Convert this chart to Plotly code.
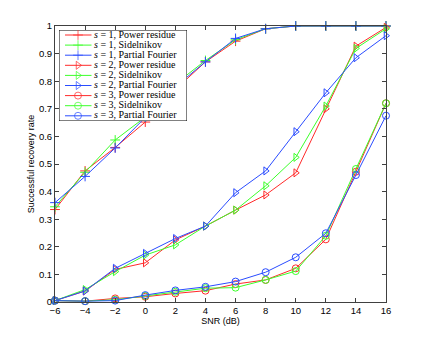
import plotly.graph_objects as go

snr = [-6, -4, -2, 0, 2, 4, 6, 8, 10, 12, 14, 16]
y_ticks = [0, 0.1, 0.2, 0.3, 0.4, 0.5, 0.6, 0.7, 0.8, 0.9, 1]

s1_power = [0.335, 0.475, 0.56, 0.652, 0.77, 0.87, 0.945, 0.99, 1.0, 1.0, 1.0, 1.0]
s1_sidel = [0.345, 0.47, 0.587, 0.67, 0.79, 0.875, 0.95, 0.99, 1.0, 1.0, 1.0, 1.0]
s1_pf = [0.36, 0.455, 0.558, 0.67, 0.78, 0.87, 0.955, 0.99, 1.0, 1.0, 1.0, 1.0]

s2_power = [0.005, 0.04, 0.118, 0.142, 0.225, 0.275, 0.333, 0.388, 0.468, 0.70, 0.927, 0.995]
s2_sidel = [0.005, 0.045, 0.11, 0.17, 0.207, 0.275, 0.333, 0.421, 0.524, 0.71, 0.919, 0.99]
s2_pf = [0.005, 0.04, 0.122, 0.176, 0.23, 0.275, 0.396, 0.475, 0.617, 0.758, 0.885, 0.965]

s3_power = [0.005, 0.003, 0.013, 0.019, 0.031, 0.041, 0.065, 0.08, 0.122, 0.227, 0.472, 0.72]
s3_sidel = [0.005, 0.003, 0.008, 0.022, 0.037, 0.05, 0.052, 0.08, 0.112, 0.24, 0.482, 0.72]
s3_pf = [0.005, 0.003, 0.005, 0.025, 0.042, 0.055, 0.074, 0.108, 0.162, 0.249, 0.46, 0.675]

labels = [
    "<i>s</i> = 1, Power residue",
    "<i>s</i> = 1, Sidelnikov",
    "<i>s</i> = 1, Partial Fourier",
    "<i>s</i> = 2, Power residue",
    "<i>s</i> = 2, Sidelnikov",
    "<i>s</i> = 2, Partial Fourier",
    "<i>s</i> = 3, Power residue",
    "<i>s</i> = 3, Sidelnikov",
    "<i>s</i> = 3, Partial Fourier",
]

RED, GREEN, BLUE = "#ff2a2a", "#3cff2a", "#2a4cff"

series = [
    (s1_power, RED, "cross-thin-open"),
    (s1_sidel, GREEN, "cross-thin-open"),
    (s1_pf, BLUE, "cross-thin-open"),
    (s2_power, RED, "triangle-right-open"),
    (s2_sidel, GREEN, "triangle-right-open"),
    (s2_pf, BLUE, "triangle-right-open"),
    (s3_power, RED, "circle-open"),
    (s3_sidel, GREEN, "circle-open"),
    (s3_pf, BLUE, "circle-open"),
]

fig = go.Figure()

for vals, color, sym in series:
    fig.add_trace(go.Scatter(
        x=snr, y=vals, mode="lines+markers",
        line=dict(color=color, width=1),
        marker=dict(symbol=sym, size=7, color=color, line=dict(color=color, width=1)),
        cliponaxis=False, showlegend=False,
    ))

# compact MATLAB-style legend on its own small axes
fig.add_trace(go.Scatter(
    x=[0, 128, 128, 0, 0], y=[0, 0, 91, 91, 0], mode="lines",
    fill="toself", fillcolor="white", line=dict(color="black", width=1),
    xaxis="x2", yaxis="y2", cliponaxis=False, showlegend=False, hoverinfo="skip",
))
row_y = [5 + 10.1 * i for i in range(len(labels))]
for i, (vals, color, sym) in enumerate(series):
    fig.add_trace(go.Scatter(
        x=[6, 19, 32.5], y=[row_y[i]] * 3, mode="lines+markers",
        line=dict(color=color, width=1),
        marker=dict(symbol=sym, size=[0, 7, 0], color=color, line=dict(color=color, width=1)),
        xaxis="x2", yaxis="y2", cliponaxis=False, showlegend=False, hoverinfo="skip",
    ))
fig.add_trace(go.Scatter(
    x=[35] * len(labels), y=row_y, mode="text", text=labels,
    textposition="middle right",
    textfont=dict(family="Liberation Serif", size=10, color="black"),
    xaxis="x2", yaxis="y2", cliponaxis=False, showlegend=False, hoverinfo="skip",
))

axis_common = dict(
    showline=True, linecolor="#404040", linewidth=1, mirror="ticks",
    ticks="inside", ticklen=4, tickcolor="#404040", showgrid=False, zeroline=False,
    tickfont=dict(family="Liberation Sans", size=9.5, color="black"),
)

# the page body adds an 8px margin, so the figure is 8px smaller each way
fig.update_layout(
    width=416, height=332,
    margin=dict(l=47, r=38, t=18, b=38, autoexpand=False),
    paper_bgcolor="white", plot_bgcolor="white",
    xaxis=dict(range=[-6, 16], tickvals=snr, ticktext=[str(v).replace("-", "\u2212") for v in snr],
               title=dict(text="SNR (dB)", standoff=2,
                          font=dict(family="Liberation Sans", size=9, color="black")),
               **axis_common),
    yaxis=dict(range=[0, 1], tickvals=y_ticks, ticktext=[f"{v:g}" for v in y_ticks],
               title=dict(text="Successful recovery rate", standoff=2,
                          font=dict(family="Liberation Sans", size=9, color="black")),
               **axis_common),
    xaxis2=dict(domain=[0.0121, 0.3988], range=[0, 128], visible=False, anchor="y2"),
    yaxis2=dict(domain=[0.6558, 0.9855], range=[91, 0], visible=False, anchor="x2"),
)

fig.write_html("out.html")
